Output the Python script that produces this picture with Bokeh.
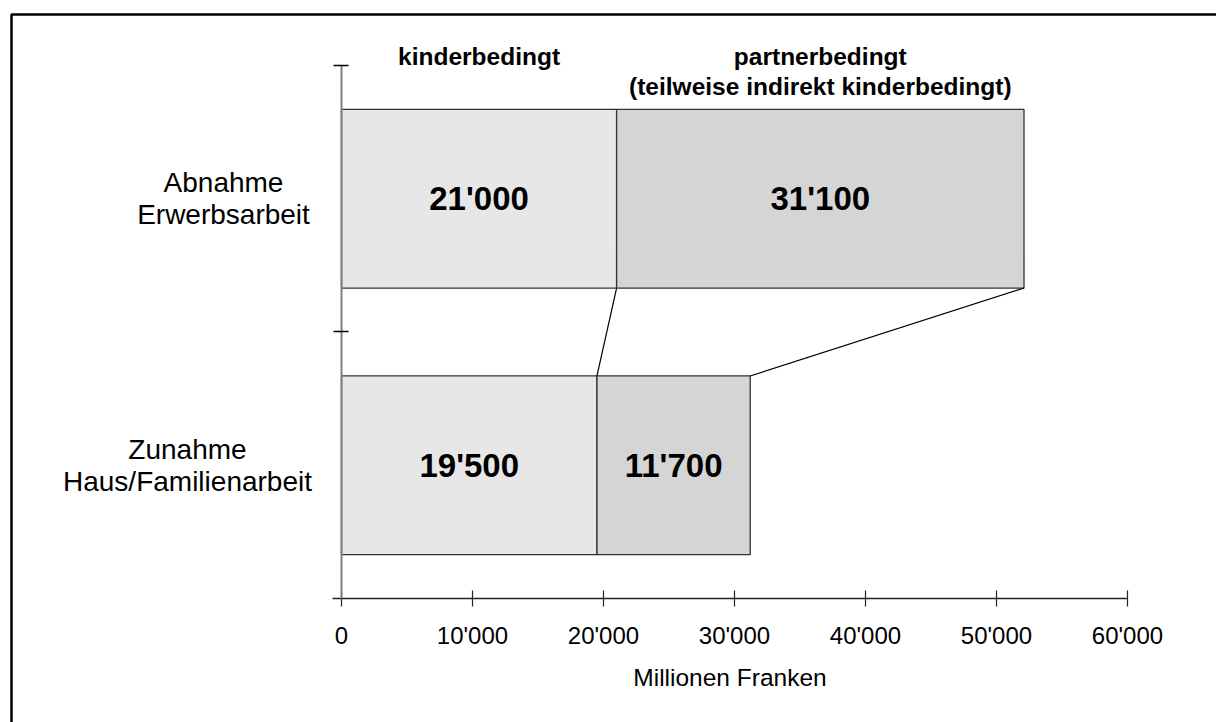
from bokeh.plotting import figure
from bokeh.models import LinearAxis, FixedTicker, ColumnDataSource
from bokeh.core.properties import value
from bokeh.embed import file_html
from bokeh.resources import INLINE

# ---- data ----
categories = ["Zunahme\nHaus/Familienarbeit", "Abnahme\nErwerbsarbeit"]
cat_pos = [0.5, 1.5]
kinderbedingt = [19500, 21000]
partnerbedingt = [11700, 31100]
headers = ["kinderbedingt", "partnerbedingt\n(teilweise indirekt kinderbedingt)"]
x_ticks = [0, 10000, 20000, 30000, 40000, 50000, 60000]
x_tick_labels = ["0", "10'000", "20'000", "30'000", "40'000", "50'000", "60'000"]
x_label = "Millionen Franken"

def fmt(v):
    return f"{v:,}".replace(",", "'")

FONT = "Liberation Sans"
BAR_H = 0.67

W, H = 1216, 722
p = figure(width=W, height=H, output_backend="svg", toolbar_location=None,
           x_range=(-26031, 66794), y_range=(-0.4653, 2.2439),
           x_axis_location=None, y_axis_location=None,
           min_border=0, min_border_left=0, min_border_right=0,
           min_border_top=0, min_border_bottom=0)
p.outline_line_color = None
p.background_fill_color = "white"
p.border_fill_color = "white"
p.grid.visible = False

# outer frame (top + left border)
p.line(x=[-25191, -25191, 70000], y=[-1, 2.1914, 2.1914], line_color="black", line_width=2.5)

totals = [k + q for k, q in zip(kinderbedingt, partnerbedingt)]
src = ColumnDataSource(dict(y=cat_pos, k=kinderbedingt, q=partnerbedingt, t=totals,
                            zero=[0, 0],
                            kl=[fmt(v) for v in kinderbedingt],
                            ql=[fmt(v) for v in partnerbedingt],
                            kc=[v / 2 for v in kinderbedingt],
                            qc=[k + q / 2 for k, q in zip(kinderbedingt, partnerbedingt)]))

p.hbar(y="y", left="zero", right="k", height=BAR_H, source=src,
       fill_color="#e7e7e7", line_color="#333333", line_width=1.3)
p.hbar(y="y", left="k", right="t", height=BAR_H, source=src,
       fill_color="#d5d5d5", line_color="#333333", line_width=1.3)

# connector lines between bars
top_bottom = cat_pos[1] - BAR_H / 2
bot_top = cat_pos[0] + BAR_H / 2
p.segment(x0=[kinderbedingt[1], totals[1]], y0=[top_bottom, top_bottom],
          x1=[kinderbedingt[0], totals[0]], y1=[bot_top, bot_top],
          line_color="black", line_width=1.2)

# value labels
p.text(x="kc", y="y", text="kl", source=src, text_align="center", text_baseline="middle",
       text_font=value(FONT), text_font_style="bold", text_font_size="33px", text_color="black")
p.text(x="qc", y="y", text="ql", source=src, text_align="center", text_baseline="middle",
       text_font=value(FONT), text_font_style="bold", text_font_size="33px", text_color="black")

# column headers
hx = [kinderbedingt[1] / 2, kinderbedingt[1] + partnerbedingt[1] / 2]
p.text(x=hx, y=[2.085, 2.085], text=headers, text_align="center", text_baseline="top",
       text_font=value(FONT), text_font_style="bold", text_font_size="24.5px",
       text_color="black", text_line_height=1.1)

# category labels
p.text(x=[-11756, -9008], y=cat_pos, text=categories, text_align="center", text_baseline="middle",
       text_font=value(FONT), text_font_size="28px", text_color="black", text_line_height=1.04)

# axes
xa = LinearAxis(fixed_location=0, ticker=FixedTicker(ticks=x_ticks), bounds=(-650, 60000),
                major_label_overrides={t: l for t, l in zip(x_ticks, x_tick_labels)},
                axis_label=x_label)
xa.axis_line_color = "#222222"
xa.axis_line_width = 1.5
xa.major_tick_in = 8
xa.major_tick_out = 8
xa.major_tick_line_color = "#222222"
xa.major_tick_line_width = 1.2
xa.minor_tick_line_color = None
xa.major_label_text_font = FONT
xa.major_label_text_font_size = "24px"
xa.major_label_text_color = "black"
xa.major_label_standoff = 16
xa.axis_label_text_font = FONT
xa.axis_label_text_font_size = "24.5px"
xa.axis_label_text_font_style = "normal"
xa.axis_label_text_color = "black"
xa.axis_label_standoff = 11
p.add_layout(xa, "below")

ya = LinearAxis(fixed_location=0, ticker=FixedTicker(ticks=[1, 2]), bounds=(0, 2))
ya.axis_line_color = "#808080"
ya.axis_line_width = 2
ya.major_tick_in = 7
ya.major_tick_out = 8
ya.major_tick_line_color = "black"
ya.major_tick_line_width = 1.5
ya.minor_tick_line_color = None
ya.major_label_text_color = None
p.add_layout(ya, "left")

open("out.html", "w").write(file_html(p, INLINE))
